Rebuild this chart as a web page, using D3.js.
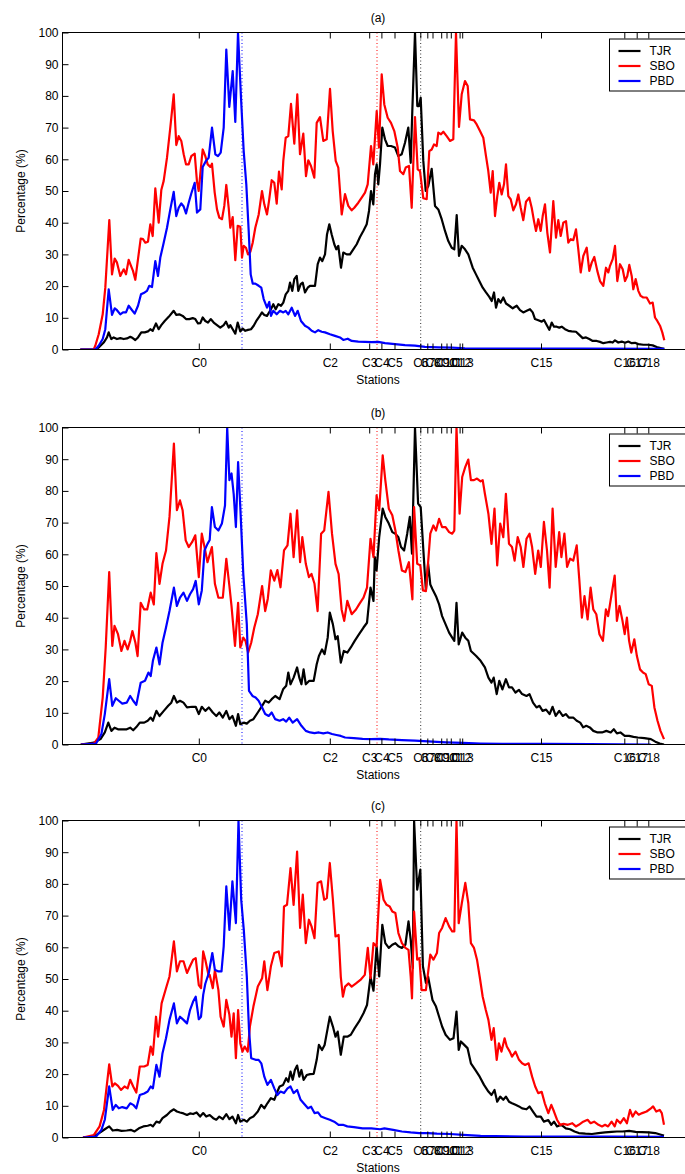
<!DOCTYPE html>
<html>
<head>
<meta charset="utf-8">
<script src="https://cdn.jsdelivr.net/npm/d3@7"></script>
<style>
body { margin: 0; background: #fff; }
text { font-family: "Liberation Sans", Arial, Helvetica, sans-serif; }
</style>
</head>
<body>
<div id="chart"></div>
<script>
// stations along the track (km from start of section)
const stationNames = ["C0","C2","C3","C4","C5","C6","C7","C8","C9","C10","C11","C12","C13","C15","C16","C17","C18"];
const stationKm = [136.3,267.3,306.7,318.9,332.0,357.8,364.8,370.0,378.7,384.0,388.3,397.1,399.7,478.5,561.8,574.2,585.8];
const markerKm = [179.5, 314.5, 358.2];
const markerColors = ["#0000ff", "#ff0000", "#333333"];
const seriesNames = ["TJR", "SBO", "PBD"];
const seriesColors = ["#000000", "#ff0000", "#0000ff"];
const panelTitles = ["(a)", "(b)", "(c)"];
const yTicks = [0,10,20,30,40,50,60,70,80,90,100];

// ---- panel (a): [km, percentage]
const tjrA = [[17.8,0],[32.8,0],[36.2,0.6],[41.2,2.2],[44.5,3.8],[46.2,5.4],[48.8,3.3],[51.2,3.8],[54.5,3.3],[57.8,3.6],[61.2,3.3],[64.5,3.5],[67.8,4.0],[70.2,3.6],[72.8,3.0],[75.5,3.8],[78.8,5.4],[82.2,5.4],[85.5,5.7],[87.8,6.4],[90.2,5.9],[93.5,8.2],[96.2,6.4],[98.8,7.7],[102.2,9.0],[106.2,10.3],[111.2,12.2],[113.8,10.9],[116.8,11.1],[120.2,10.6],[123.5,9.6],[126.8,9.6],[130.2,9.9],[132.8,9.6],[135.5,8.2],[137.8,8.3],[140.2,10.1],[142.8,9.0],[145.5,8.5],[148.2,9.6],[151.2,8.5],[154.5,7.7],[157.8,6.9],[161.2,7.7],[163.5,8.8],[166.2,6.9],[167.8,7.7],[170.2,6.4],[172.8,5.0],[175.2,8.5],[177.8,5.7],[180.2,6.6],[182.8,5.9],[185.5,6.2],[188.5,6.4],[191.2,7.5],[193.8,9.0],[196.8,10.4],[199.5,11.7],[201.8,10.9],[204.5,10.6],[208.5,12.7],[210.8,14.3],[213.2,12.7],[215.8,14.3],[218.5,13.8],[220.8,14.8],[223.2,17.4],[225.8,18.5],[227.5,21.1],[229.8,18.5],[231.8,22.2],[234.2,23.2],[235.8,18.5],[238.2,20.6],[240.2,21.1],[242.5,18.0],[245.2,19.5],[247.5,20.1],[252.5,20.1],[255.2,26.9],[257.5,29.0],[259.8,27.9],[262.5,30.0],[264.5,36.3],[266.8,39.5],[269.2,36.3],[271.8,33.2],[273.8,31.6],[275.8,32.7],[278.5,25.8],[280.8,30.6],[284.2,30.0],[287.5,30.0],[290.8,31.6],[294.2,33.2],[297.5,35.5],[300.8,37.4],[304.2,39.5],[306.5,43.7],[308.5,50.0],[310.8,45.8],[312.5,55.3],[314.2,58.4],[315.8,52.1],[317.5,58.4],[319.8,70.0],[322.5,66.3],[325.2,64.2],[328.5,64.2],[332.5,63.7],[335.8,61.0],[339.2,61.6],[342.5,65.2],[345.8,70.0],[348.2,58.9],[349.8,75.2],[352.5,100],[354.8,76.8],[356.5,76.8],[358.2,79.4],[360.8,59.5],[363.2,50.0],[365.8,51.6],[369.2,57.0],[372.5,45.3],[375.8,44.2],[379.2,41.1],[382.5,37.4],[385.8,34.2],[389.2,32.1],[391.8,31.6],[394.2,42.4],[396.5,29.5],[399.2,32.7],[402.5,31.6],[405.8,30.0],[410.2,25.8],[413.5,23.7],[416.8,21.6],[420.2,19.5],[423.5,18.0],[426.8,16.6],[429.2,15.3],[431.5,18.0],[433.5,13.2],[435.8,15.9],[438.2,14.8],[440.8,16.4],[443.5,14.5],[446.8,13.8],[450.2,13.0],[454.2,13.8],[457.5,12.4],[460.8,11.7],[464.2,12.2],[467.5,12.7],[470.2,11.7],[472.5,9.6],[475.8,9.2],[479.2,8.8],[481.5,9.3],[484.2,7.7],[486.8,6.2],[489.2,8.5],[491.5,7.2],[494.2,7.2],[496.8,6.9],[499.2,7.2],[502.5,6.4],[505.8,5.9],[509.2,5.7],[513.5,5.6],[516.8,4.6],[520.2,3.6],[523.5,3.8],[526.8,3.3],[530.2,2.7],[534.2,2.7],[537.5,2.4],[540.8,2.0],[544.2,2.2],[547.5,2.4],[550.2,2.2],[552.5,2.9],[555.8,2.2],[559.2,2.5],[562.5,2.1],[565.8,2.5],[569.2,2.0],[572.5,2.1],[575.8,1.7],[580.8,1.5],[585.8,1.5],[590.2,1.3],[594.2,0.8],[599.2,0.4],[601.8,0.2]];
const sboA = [[17.8,0],[31.2,0],[32.8,1.2],[36.2,4.8],[40.2,11.1],[42.8,19.5],[46.8,40.8],[49.5,23.7],[52.2,28.7],[54.5,27.4],[57.8,23.2],[59.5,24.3],[61.2,25.3],[63.5,23.7],[66.2,28.3],[68.5,26.4],[70.5,24.8],[72.8,22.0],[75.5,28.5],[78.2,35.0],[80.5,34.8],[82.8,33.7],[85.5,34.0],[87.8,39.5],[90.2,35.8],[92.8,50.8],[96.2,40.0],[98.8,50.3],[101.2,53.2],[104.5,60.5],[107.8,70.0],[111.2,80.5],[113.8,64.5],[116.2,67.3],[118.8,65.8],[121.2,61.6],[123.5,58.4],[126.2,58.4],[128.8,61.0],[132.2,61.8],[134.5,52.9],[136.2,50.0],[137.8,55.3],[140.2,63.1],[142.8,61.0],[145.2,58.4],[147.8,57.6],[149.5,58.6],[152.2,49.5],[154.5,44.2],[156.8,41.6],[159.5,41.1],[161.8,45.3],[163.8,51.9],[166.2,44.7],[167.8,38.4],[170.2,41.8],[172.8,28.2],[175.2,39.0],[177.8,38.7],[179.5,29.0],[181.2,32.7],[183.5,32.1],[185.5,30.0],[187.8,30.8],[190.2,33.7],[192.8,38.4],[196.2,42.6],[199.5,50.0],[201.8,45.8],[204.5,42.6],[206.5,46.8],[209.2,53.4],[211.8,52.6],[214.2,46.0],[216.5,56.1],[219.2,50.5],[220.8,59.5],[223.2,66.8],[225.8,67.3],[228.5,77.5],[231.8,64.9],[234.8,80.5],[237.5,61.6],[240.8,68.1],[243.5,54.7],[245.8,59.7],[248.5,57.9],[251.8,54.2],[254.2,71.5],[257.5,73.3],[260.8,65.8],[264.2,66.3],[267.5,82.2],[270.2,68.9],[273.2,59.5],[275.8,57.4],[279.2,42.6],[282.5,49.0],[285.8,45.3],[289.2,43.9],[291.8,44.7],[295.8,46.3],[299.2,47.9],[302.5,49.5],[305.2,52.1],[308.5,64.2],[310.8,58.4],[314.2,75.2],[316.5,63.7],[319.2,86.8],[321.8,77.3],[325.2,73.1],[328.5,71.5],[331.8,68.9],[335.2,63.7],[337.5,56.3],[340.8,55.3],[343.2,57.4],[346.5,57.9],[349.2,44.7],[352.5,73.3],[355.2,56.8],[357.5,56.3],[360.8,47.7],[364.2,47.4],[366.8,62.6],[369.2,63.1],[371.5,64.7],[374.2,64.2],[375.8,68.4],[378.5,67.9],[380.8,68.7],[384.2,67.3],[387.5,65.8],[390.8,66.3],[393.5,100],[396.5,70.2],[399.2,80.5],[402.5,84.7],[405.2,83.1],[407.5,72.6],[411.5,72.3],[414.2,71.0],[417.5,68.9],[420.8,66.8],[423.5,61.0],[425.8,56.3],[428.2,49.5],[430.2,56.3],[432.5,42.1],[434.8,48.4],[436.8,52.6],[439.2,48.9],[441.5,52.1],[443.5,58.4],[445.8,48.4],[448.2,47.4],[450.8,43.9],[453.5,45.8],[455.8,48.9],[458.2,44.7],[460.8,40.8],[463.5,46.6],[466.8,47.9],[469.2,44.7],[471.5,40.5],[473.5,37.4],[475.8,41.1],[478.2,37.4],[480.2,42.1],[482.5,45.8],[484.8,36.9],[487.5,30.6],[490.8,46.8],[493.5,35.3],[495.8,40.8],[498.2,35.8],[500.8,40.0],[503.5,40.5],[505.8,33.7],[508.2,34.8],[510.8,34.5],[513.5,37.9],[515.8,31.6],[518.2,24.3],[520.8,29.5],[524.2,32.1],[526.8,24.8],[529.2,27.4],[531.8,29.2],[534.8,24.8],[537.5,21.6],[540.8,20.1],[543.5,25.8],[545.8,24.3],[547.5,26.4],[550.2,28.5],[552.5,32.7],[554.8,21.6],[557.5,26.9],[560.2,25.3],[562.5,21.6],[564.8,23.2],[566.8,26.7],[569.2,23.2],[570.8,19.0],[573.2,22.2],[575.8,18.5],[578.2,16.9],[580.8,16.4],[584.2,16.4],[587.5,14.5],[590.2,14.8],[592.5,10.1],[594.8,9.0],[597.5,7.5],[599.8,5.4],[601.8,2.9]];
const pbdA = [[17.8,0],[32.8,0],[36.2,1.2],[40.2,3.3],[42.8,6.4],[46.2,19.0],[49.5,10.9],[52.2,13.0],[54.5,12.4],[57.8,11.1],[60.5,11.7],[63.5,11.7],[66.2,13.8],[68.8,12.7],[72.2,11.3],[75.5,13.8],[78.5,17.4],[82.2,18.0],[84.5,18.5],[86.8,20.1],[89.5,19.7],[92.8,27.9],[95.5,23.2],[97.8,29.0],[101.2,33.7],[104.5,38.4],[107.8,44.2],[111.2,49.7],[113.8,42.1],[116.2,44.7],[118.8,46.1],[121.2,45.1],[123.5,42.9],[126.2,46.3],[128.8,49.2],[132.2,52.6],[134.5,43.2],[137.8,44.2],[140.2,57.6],[143.5,59.5],[146.2,60.5],[149.5,70.0],[152.8,61.6],[155.5,61.0],[158.2,62.1],[161.2,70.0],[163.8,94.6],[166.8,76.5],[170.2,87.8],[172.8,71.8],[175.5,100],[178.5,79.4],[181.2,62.6],[183.8,52.1],[186.2,37.4],[188.2,23.7],[190.2,20.8],[192.8,20.8],[196.2,20.1],[198.8,19.5],[201.2,15.9],[204.5,13.2],[206.8,15.0],[208.5,10.6],[210.8,12.2],[214.2,11.1],[217.5,12.2],[220.8,11.7],[223.2,12.2],[225.8,11.1],[229.2,13.2],[232.5,10.6],[235.2,12.2],[238.5,9.0],[242.5,7.5],[245.8,6.9],[249.2,5.9],[252.5,5.4],[255.8,6.1],[259.2,5.6],[262.5,5.4],[267.5,4.8],[272.5,4.3],[277.5,3.8],[280.8,3.0],[285.2,3.4],[289.2,2.7],[295.8,2.5],[302.5,2.4],[309.2,2.3],[315.8,2.4],[322.5,2.0],[332.5,1.7],[342.5,1.4],[352.5,1.2],[362.5,0.8],[375.8,0.7],[389.2,0.6],[402.5,0.4],[450.0,0.3],[520.0,0.3],[601.8,0.2]];

// ---- panel (b)
const tjrB = [[18.3,0],[31.4,0.6],[38.0,1.7],[42.3,3.8],[45.8,6.9],[48.9,4.3],[52.0,5.3],[55.5,4.8],[59.8,4.8],[64.2,4.8],[67.7,5.3],[70.7,4.5],[73.8,5.5],[77.3,6.9],[81.7,6.9],[85.2,7.5],[88.2,8.5],[90.4,7.5],[93.9,10.6],[97.0,9.0],[101.3,10.6],[105.7,12.2],[108.8,13.2],[111.4,15.3],[114.4,13.2],[117.5,13.8],[121.0,13.2],[124.5,11.7],[129.7,11.9],[133.2,11.9],[136.3,9.6],[139.3,11.9],[142.8,10.6],[146.3,11.7],[150.3,10.1],[153.8,9.0],[156.8,10.1],[160.3,8.5],[163.8,10.6],[166.9,8.0],[169.9,9.0],[173.4,5.9],[175.6,9.6],[177.8,6.4],[181.3,6.9],[184.3,6.6],[187.4,7.5],[190.9,8.0],[195.3,10.1],[199.6,12.2],[202.7,13.8],[206.2,13.2],[209.2,14.3],[212.7,15.3],[217.1,14.3],[220.6,17.4],[223.7,18.5],[225.8,22.7],[228.0,19.0],[231.1,21.1],[234.6,24.3],[236.8,21.1],[238.9,19.0],[241.1,23.7],[243.3,19.0],[246.8,20.1],[251.2,20.1],[254.2,25.3],[256.4,27.9],[259.5,30.0],[262.1,28.5],[265.2,33.7],[267.3,41.6],[270.4,37.9],[273.0,33.2],[275.2,34.2],[278.3,25.8],[281.3,29.5],[284.8,29.0],[288.3,30.6],[292.2,32.7],[296.6,34.8],[301.0,36.9],[304.5,38.4],[308.0,49.5],[311.0,45.3],[312.3,59.1],[314.1,54.9],[316.7,65.4],[320.2,74.4],[322.8,71.8],[326.3,69.7],[329.8,67.0],[332.9,66.5],[335.9,65.4],[338.5,62.3],[341.6,61.2],[344.7,66.5],[347.3,71.8],[349.5,60.2],[352.5,100],[355.6,76.0],[358.2,74.9],[361.3,59.1],[363.4,48.6],[365.6,57.0],[367.8,50.5],[370.0,49.0],[373.5,46.8],[376.6,44.2],[379.6,40.5],[383.1,37.9],[386.6,35.3],[389.7,33.7],[391.8,32.7],[394.0,44.7],[396.2,31.6],[399.7,35.3],[402.8,33.7],[405.8,32.7],[408.4,29.5],[413.7,27.9],[418.1,26.4],[422.4,24.3],[425.9,21.1],[429.0,19.5],[431.2,21.1],[434.2,15.9],[436.8,20.1],[439.9,17.4],[443.4,20.6],[446.5,18.0],[449.5,18.0],[453.0,16.4],[456.5,17.2],[459.6,15.9],[464.0,15.3],[467.0,15.9],[470.5,13.2],[474.0,11.7],[477.0,12.2],[480.1,10.6],[483.6,11.0],[487.1,9.6],[490.1,11.9],[493.2,9.0],[496.7,10.6],[500.2,9.0],[503.3,9.6],[506.3,8.5],[510.7,8.5],[514.2,7.5],[517.7,6.9],[520.7,5.4],[523.8,5.9],[527.3,5.4],[530.8,4.3],[535.1,3.8],[539.5,3.8],[543.9,4.3],[548.2,3.8],[551.3,4.8],[554.4,3.5],[557.9,3.8],[562.2,2.7],[566.6,2.7],[571.0,2.4],[575.3,2.2],[581.9,2.0],[588.4,1.7],[592.8,0.9],[597.2,0.3],[601.5,0]];
const sboB = [[18.3,0],[31.4,0.3],[35.8,2.2],[40.2,14.8],[43.2,30.6],[46.7,54.4],[49.8,31.1],[52.0,37.4],[55.5,34.8],[58.9,29.5],[62.0,32.7],[65.1,30.0],[67.7,32.7],[69.9,35.8],[72.9,32.1],[75.1,27.9],[78.2,44.7],[81.7,42.6],[84.7,42.6],[88.2,47.9],[91.3,44.2],[93.9,60.4],[97.0,50.7],[100.0,57.0],[103.5,61.2],[107.0,71.8],[111.4,94.9],[114.4,73.9],[117.5,77.0],[120.1,73.9],[123.2,64.4],[126.2,62.3],[129.7,63.9],[132.8,66.0],[136.3,52.8],[139.3,66.5],[142.0,62.3],[145.0,57.5],[149.4,62.3],[152.4,50.7],[155.9,46.3],[160.3,46.3],[163.8,58.6],[166.9,50.0],[169.0,43.7],[172.5,31.1],[175.6,44.7],[177.8,30.6],[180.8,33.7],[183.0,32.7],[185.6,29.0],[188.7,32.1],[191.8,36.9],[195.3,41.1],[199.6,50.0],[202.7,42.1],[205.3,46.0],[208.3,54.9],[211.8,51.7],[214.9,55.0],[218.0,49.6],[221.5,61.2],[225.0,62.8],[228.0,72.8],[231.1,59.1],[234.6,73.9],[237.6,57.5],[239.8,65.4],[243.3,57.0],[246.4,52.8],[249.0,53.8],[252.0,50.7],[255.1,42.1],[258.6,66.5],[261.7,67.5],[266.0,79.7],[269.5,66.5],[273.0,57.0],[276.1,53.8],[279.1,42.6],[281.7,39.0],[284.8,45.3],[289.2,41.1],[293.5,42.6],[296.6,44.2],[301.0,46.3],[304.5,49.5],[308.0,64.9],[311.0,59.1],[314.1,78.6],[316.7,73.9],[320.2,91.2],[322.8,83.4],[326.3,74.4],[329.8,72.3],[332.9,67.5],[335.9,61.2],[339.4,54.9],[342.9,54.4],[346.4,57.5],[349.9,45.8],[351.6,74.9],[354.7,57.0],[357.8,56.5],[360.4,48.6],[363.4,48.4],[367.8,66.5],[370.9,69.1],[373.5,67.5],[376.6,71.2],[379.6,68.6],[383.1,68.6],[386.6,67.0],[389.7,66.5],[391.8,67.5],[394.0,100],[397.1,72.8],[399.7,84.4],[402.8,87.6],[405.8,89.9],[408.4,83.4],[411.5,83.4],[414.5,83.9],[418.1,83.0],[420.2,83.4],[422.4,79.1],[425.9,72.8],[429.0,63.3],[432.0,74.4],[434.7,56.5],[437.7,69.7],[440.8,65.4],[443.4,79.1],[446.5,63.3],[449.5,62.3],[452.1,58.0],[455.2,65.4],[458.2,62.3],[460.9,56.0],[464.0,64.9],[467.0,66.5],[469.6,62.3],[472.7,53.8],[475.7,61.2],[478.3,56.0],[481.4,70.2],[484.5,61.2],[487.1,49.5],[490.1,74.4],[493.2,56.0],[496.7,67.0],[498.9,59.1],[501.9,66.5],[504.6,56.0],[507.6,58.6],[510.7,58.0],[514.2,62.8],[516.8,52.0],[519.4,40.0],[522.0,46.8],[525.1,39.5],[528.1,49.5],[530.8,42.6],[533.8,41.1],[536.9,34.8],[540.4,32.7],[543.4,42.6],[545.6,40.5],[549.1,47.4],[552.2,53.3],[554.4,39.0],[557.0,43.7],[560.0,39.0],[562.2,34.8],[564.4,40.0],[566.6,32.7],[568.8,29.0],[571.8,33.2],[574.4,27.9],[577.5,23.7],[580.5,22.7],[583.2,22.2],[586.2,19.0],[589.3,18.5],[591.9,11.7],[595.0,7.5],[598.0,4.3],[601.5,1.7]];
const pbdB = [[18.3,0],[33.6,0.3],[38.9,3.3],[42.3,9.6],[46.7,20.6],[49.8,12.2],[53.3,14.6],[56.3,13.8],[59.8,12.9],[64.2,13.2],[67.7,15.3],[70.7,13.8],[73.8,12.5],[78.2,19.5],[82.5,20.1],[86.0,22.7],[88.2,21.6],[90.4,26.4],[93.9,30.6],[97.0,25.3],[100.0,32.1],[103.5,36.9],[107.0,42.1],[111.4,49.5],[114.4,43.7],[117.5,46.3],[121.0,47.9],[124.5,45.3],[127.5,47.4],[130.6,49.0],[133.2,51.6],[136.3,44.2],[139.3,48.6],[142.0,61.2],[145.0,63.3],[147.2,64.5],[149.4,74.9],[152.4,68.6],[155.9,67.5],[159.4,69.7],[162.5,75.4],[164.7,100],[166.9,83.4],[169.0,85.5],[171.2,79.0],[173.4,68.6],[175.6,89.1],[177.8,74.9],[180.8,53.8],[184.3,37.9],[186.5,16.9],[190.0,15.3],[193.1,14.8],[196.1,13.8],[199.6,11.7],[202.7,9.6],[206.2,9.0],[209.2,10.1],[212.7,8.0],[217.1,7.5],[220.6,8.0],[223.7,7.2],[226.7,8.5],[230.2,6.9],[234.6,8.0],[238.9,5.9],[243.3,4.3],[247.7,3.8],[252.0,3.6],[256.4,3.8],[260.8,3.5],[265.2,3.8],[269.5,3.3],[273.9,3.0],[278.3,2.7],[282.6,2.2],[291.4,2.0],[300.1,1.8],[308.8,1.7],[317.6,1.8],[326.3,1.6],[339.4,1.4],[352.5,1.2],[365.6,1.0],[383.1,0.7],[400.6,0.5],[418.1,0.3],[439.9,0.2],[483.6,0.2],[527.3,0.1],[588.4,0]];

// ---- panel (c)
const tjrC = [[20.5,0],[31.4,0.3],[38.9,1.9],[42.3,2.6],[46.7,3.5],[50.2,2.2],[54.6,2.4],[59.0,2.1],[64.2,2.2],[68.6,2.4],[72.1,1.9],[76.4,2.9],[80.8,3.5],[85.2,3.7],[88.2,4.0],[90.4,3.5],[93.9,5.0],[97.0,4.7],[100.0,6.1],[104.4,7.1],[107.9,8.2],[111.4,8.9],[114.4,8.2],[117.5,7.9],[121.0,7.6],[124.5,7.1],[127.5,7.6],[130.6,7.4],[134.1,7.9],[137.6,6.6],[140.7,7.7],[143.7,6.6],[147.2,7.1],[150.7,6.1],[153.8,5.6],[156.8,6.6],[160.3,5.8],[163.8,7.4],[166.9,5.8],[169.9,6.6],[173.4,4.5],[175.6,7.1],[177.8,5.0],[181.3,5.6],[184.3,5.0],[187.4,6.1],[190.9,6.6],[195.3,8.2],[198.8,10.3],[201.8,9.2],[204.9,10.8],[208.4,12.4],[211.8,11.9],[214.9,14.5],[217.1,16.1],[220.6,16.6],[223.7,18.7],[225.8,17.6],[228.0,20.8],[230.2,18.2],[232.4,21.3],[234.6,22.7],[236.8,19.2],[238.9,21.3],[241.1,18.2],[244.2,19.7],[247.7,20.0],[251.2,20.1],[254.2,24.5],[256.4,29.2],[259.5,27.6],[262.1,29.2],[265.2,34.5],[267.3,38.1],[270.4,35.0],[273.0,31.8],[275.2,33.4],[278.3,26.1],[281.3,31.8],[284.8,31.8],[288.3,32.4],[292.2,34.5],[296.6,36.6],[301.0,39.2],[304.5,41.8],[308.0,50.7],[311.0,46.3],[314.1,60.3],[316.7,50.8],[319.8,67.1],[322.8,61.3],[326.3,59.8],[329.8,60.8],[332.9,61.3],[335.9,60.3],[339.4,59.8],[342.9,60.8],[346.0,68.2],[348.2,62.4],[350.3,53.5],[351.6,100],[354.7,78.2],[357.8,84.5],[360.4,54.0],[363.4,48.8],[365.6,50.7],[370.0,43.4],[373.5,41.3],[376.6,38.1],[379.6,35.0],[383.1,32.4],[387.5,30.8],[391.0,31.3],[394.0,39.7],[396.2,27.6],[398.4,30.3],[401.5,29.3],[405.0,28.2],[408.4,23.4],[412.8,21.3],[417.2,19.2],[421.5,16.6],[425.9,14.5],[429.0,13.4],[432.0,15.0],[434.7,11.3],[437.7,12.9],[440.8,11.9],[443.4,12.9],[446.5,11.3],[449.5,10.8],[453.0,10.3],[456.5,9.8],[459.6,9.2],[464.0,8.9],[467.0,9.8],[470.5,8.2],[474.0,6.6],[478.3,6.6],[481.4,5.0],[485.8,5.5],[488.8,4.0],[491.5,5.0],[494.5,3.5],[498.9,4.0],[503.3,2.9],[507.6,2.6],[512.0,1.9],[516.3,1.4],[522.9,1.2],[529.4,1.1],[536.0,1.4],[542.6,1.6],[549.1,1.8],[554.4,1.9],[560.0,1.9],[566.6,2.1],[573.1,1.8],[579.7,1.7],[586.3,1.6],[592.8,1.4],[599.3,0.8],[601.5,0.6]];
const sboC = [[20.5,0],[31.4,0.8],[37.1,3.5],[41.5,8.7],[46.7,23.1],[49.8,16.1],[52.4,17.1],[55.5,16.3],[58.5,15.0],[62.0,16.1],[65.1,15.5],[67.7,18.2],[70.7,16.1],[73.8,14.2],[77.3,22.4],[81.7,22.4],[85.2,22.9],[88.2,28.7],[90.4,26.1],[93.5,38.1],[95.6,31.8],[99.1,42.3],[103.5,47.1],[107.0,50.8],[111.4,61.9],[114.4,52.4],[117.5,55.6],[121.0,55.6],[124.5,51.9],[127.5,54.0],[130.6,56.1],[133.2,56.6],[136.3,48.1],[138.5,47.1],[140.7,58.7],[142.8,56.1],[146.3,50.8],[147.2,51.3],[150.3,47.1],[152.4,52.8],[155.9,46.5],[158.1,38.1],[161.2,35.0],[163.8,43.4],[166.9,38.7],[169.0,31.8],[171.2,39.2],[173.4,25.0],[175.6,40.2],[177.8,29.7],[180.0,27.1],[182.2,28.7],[185.2,27.1],[187.4,35.0],[190.9,41.3],[195.3,47.6],[199.6,50.2],[201.8,55.6],[204.9,46.5],[208.4,54.0],[211.8,58.2],[216.2,58.7],[219.3,54.0],[221.5,72.9],[224.5,73.4],[228.0,85.0],[231.1,73.4],[234.6,90.2],[237.6,66.1],[240.3,76.6],[243.3,61.3],[246.4,68.7],[249.0,66.6],[252.0,62.9],[255.1,80.3],[258.6,80.8],[261.7,75.0],[264.3,75.5],[267.3,86.6],[270.4,75.0],[273.0,63.4],[276.1,63.9],[278.3,50.7],[280.4,44.4],[282.6,47.6],[286.1,48.6],[289.2,47.6],[293.5,48.6],[297.9,49.7],[302.3,51.3],[305.3,59.8],[308.0,50.3],[311.0,61.3],[314.1,60.3],[317.6,81.3],[321.1,75.0],[324.1,73.4],[327.2,72.9],[329.8,71.3],[332.9,70.8],[335.9,64.5],[339.4,61.3],[342.9,59.8],[346.0,59.2],[348.2,50.8],[349.5,43.9],[351.6,71.3],[354.7,56.1],[356.9,56.6],[359.1,46.5],[363.4,46.5],[367.8,57.7],[370.9,56.1],[374.4,58.2],[376.6,64.5],[379.6,66.1],[383.1,69.2],[386.6,66.6],[389.7,65.0],[391.8,65.0],[394.0,100],[396.2,67.6],[399.3,73.9],[402.8,80.3],[405.8,73.9],[408.4,61.3],[411.5,59.8],[414.5,56.1],[417.2,50.7],[420.2,44.4],[423.3,40.2],[425.9,37.1],[429.0,30.8],[431.2,34.5],[434.2,24.5],[436.4,29.7],[439.0,27.1],[442.1,31.3],[444.3,28.7],[447.3,27.1],[449.5,25.5],[453.0,27.1],[456.5,24.5],[459.6,23.4],[462.6,22.9],[466.1,23.4],[469.6,19.2],[472.7,16.1],[475.7,14.0],[479.2,14.4],[482.3,10.8],[485.8,7.7],[488.8,10.3],[491.5,8.2],[494.5,5.6],[497.6,4.0],[501.1,4.3],[505.4,4.0],[509.8,4.5],[513.3,3.5],[516.3,4.0],[520.7,5.0],[525.1,5.6],[528.1,4.5],[531.6,5.0],[536.0,4.0],[539.5,3.5],[542.6,4.0],[545.6,3.5],[549.1,5.0],[552.2,3.5],[554.4,5.6],[557.9,4.5],[561.3,6.1],[564.4,4.5],[567.5,8.7],[570.1,6.6],[573.1,8.2],[576.2,7.2],[579.7,7.7],[584.1,8.2],[588.4,9.2],[590.6,9.8],[593.7,8.2],[597.2,8.7],[599.3,7.7],[601.5,4.0]];
const pbdC = [[20.5,0],[33.6,0.3],[38.9,2.4],[42.3,5.6],[46.7,16.1],[50.2,8.7],[53.3,10.3],[56.3,9.2],[59.8,9.6],[64.2,9.2],[67.7,10.8],[70.7,10.3],[73.8,9.2],[77.3,13.4],[81.7,13.9],[85.2,14.5],[88.2,16.1],[90.4,15.5],[93.9,22.9],[97.0,19.2],[100.0,26.6],[103.5,31.3],[107.0,37.1],[111.4,42.3],[114.4,36.0],[117.5,38.1],[121.0,37.1],[124.5,36.0],[127.5,40.2],[130.6,42.9],[133.2,44.4],[136.3,37.3],[138.5,38.1],[140.7,45.0],[142.8,48.5],[146.3,51.9],[149.8,58.2],[152.4,52.9],[155.9,52.4],[159.0,52.4],[161.2,60.3],[163.8,79.2],[166.9,65.5],[169.9,80.8],[173.4,67.6],[176.0,100],[178.7,75.0],[181.3,65.5],[184.3,50.8],[186.5,34.0],[188.7,25.0],[193.1,24.5],[196.1,24.5],[198.8,23.4],[201.8,19.2],[204.9,16.6],[208.4,18.2],[211.8,15.5],[214.9,13.4],[218.0,14.5],[221.5,14.0],[225.0,15.5],[228.0,16.1],[231.1,14.0],[234.6,15.0],[238.1,11.9],[241.1,10.8],[245.5,9.2],[248.6,9.7],[252.0,7.7],[255.5,7.9],[258.6,6.6],[263.0,6.1],[267.3,5.6],[271.7,5.0],[276.1,4.0],[280.4,4.0],[284.8,3.5],[291.4,3.3],[300.1,2.9],[308.8,2.9],[317.6,2.6],[321.9,2.9],[330.7,2.4],[339.4,1.9],[348.2,1.6],[356.9,1.4],[365.6,1.4],[374.4,1.2],[387.5,1.1],[400.6,0.8],[418.1,0.5],[461.8,0.3],[549.1,0.3],[601.5,0.2]];

const panels = [
    {title: panelTitles[0], series: [tjrA, sboA, pbdA]},
    {title: panelTitles[1], series: [tjrB, sboB, pbdB]},
    {title: panelTitles[2], series: [tjrC, sboC, pbdC]}
];

const width = 685, height = 1174;
const plotLeft = 62.5, plotRight = 693.5, plotH = 317;
const panelTops = [32.5, 427.5, 820.5];
const font = "'Liberation Sans', Arial, Helvetica, sans-serif";

const svg = d3.select("#chart")
    .append("svg")
    .attr("width", width)
    .attr("height", height)
    .style("background", "#fff");

const x = d3.scaleLinear()
    .domain([0, 631])
    .range([plotLeft, plotRight]);

panels.forEach(function (p, pi) {
    const top = panelTops[pi];
    const y = d3.scaleLinear()
        .domain([0, 100])
        .range([top + plotH, top]);

    const g = svg.append("g");

    g.append("clipPath")
        .attr("id", "clip" + pi)
        .append("rect")
        .attr("x", plotLeft)
        .attr("y", top)
        .attr("width", plotRight - plotLeft)
        .attr("height", plotH);

    // dotted station markers
    markerKm.forEach(function (m, i) {
        g.append("line")
            .attr("x1", x(m)).attr("x2", x(m))
            .attr("y1", top).attr("y2", top + plotH)
            .style("stroke", markerColors[i])
            .style("stroke-width", 1)
            .style("stroke-dasharray", "1,2.5");
    });

    const line = d3.line()
        .x(d => x(d[0]))
        .y(d => y(d[1]));

    p.series.forEach(function (s, i) {
        g.append("path")
            .datum(s)
            .attr("clip-path", "url(#clip" + pi + ")")
            .attr("d", line)
            .style("fill", "none")
            .style("stroke", seriesColors[i])
            .style("stroke-width", 2.2)
            .style("stroke-linejoin", "round");
    });

    // bottom axis with station names
    const xb = g.append("g")
        .attr("transform", `translate(0, ${top + plotH})`)
        .call(d3.axisBottom(x).tickValues(stationKm)
            .tickFormat((d, i) => stationNames[i])
            .tickSizeInner(-6).tickSizeOuter(0).tickPadding(8.5));
    // top axis, ticks only
    const xt = g.append("g")
        .attr("transform", `translate(0, ${top})`)
        .call(d3.axisTop(x).tickValues(stationKm).tickFormat("")
            .tickSizeInner(-6).tickSizeOuter(0));
    const yl = g.append("g")
        .attr("transform", `translate(${plotLeft}, 0)`)
        .call(d3.axisLeft(y).tickValues(yTicks)
            .tickSizeInner(-6).tickSizeOuter(0).tickPadding(4));

    [xb, xt, yl].forEach(function (a) {
        a.select(".domain").remove();
        a.attr("font-size", 12).attr("font-family", font);
        a.selectAll("text").style("fill", "#000");
    });

    g.append("rect")
        .attr("x", plotLeft)
        .attr("y", top)
        .attr("width", plotRight - plotLeft)
        .attr("height", plotH)
        .style("fill", "none")
        .style("stroke", "#000")
        .style("stroke-width", 1);

    // title and axis labels
    g.append("text")
        .attr("x", (plotLeft + plotRight) / 2)
        .attr("y", top - 11)
        .attr("text-anchor", "middle")
        .style("font-size", "12px")
        .text(p.title);

    g.append("text")
        .attr("x", (plotLeft + plotRight) / 2)
        .attr("y", top + plotH + 34)
        .attr("text-anchor", "middle")
        .style("font-size", "12px")
        .text("Stations");

    g.append("text")
        .attr("transform", `translate(24.5, ${top + plotH / 2}) rotate(-90)`)
        .attr("text-anchor", "middle")
        .style("font-size", "12px")
        .text("Percentage (%)");

    // legend
    const lg = g.append("g").attr("transform", `translate(609.5, ${top + 6.5})`);
    lg.append("rect")
        .attr("width", 80).attr("height", 52)
        .style("fill", "#fff").style("stroke", "#000").style("stroke-width", 1);
    seriesNames.forEach(function (n, i) {
        const cy = 12 + i * 15;
        lg.append("line")
            .attr("x1", 9).attr("x2", 31)
            .attr("y1", cy).attr("y2", cy)
            .style("stroke", seriesColors[i]).style("stroke-width", 2.2);
        lg.append("text")
            .attr("x", 40).attr("y", cy + 4.3)
            .style("font-size", "12px")
            .text(n);
    });
});
</script>
</body>
</html>
